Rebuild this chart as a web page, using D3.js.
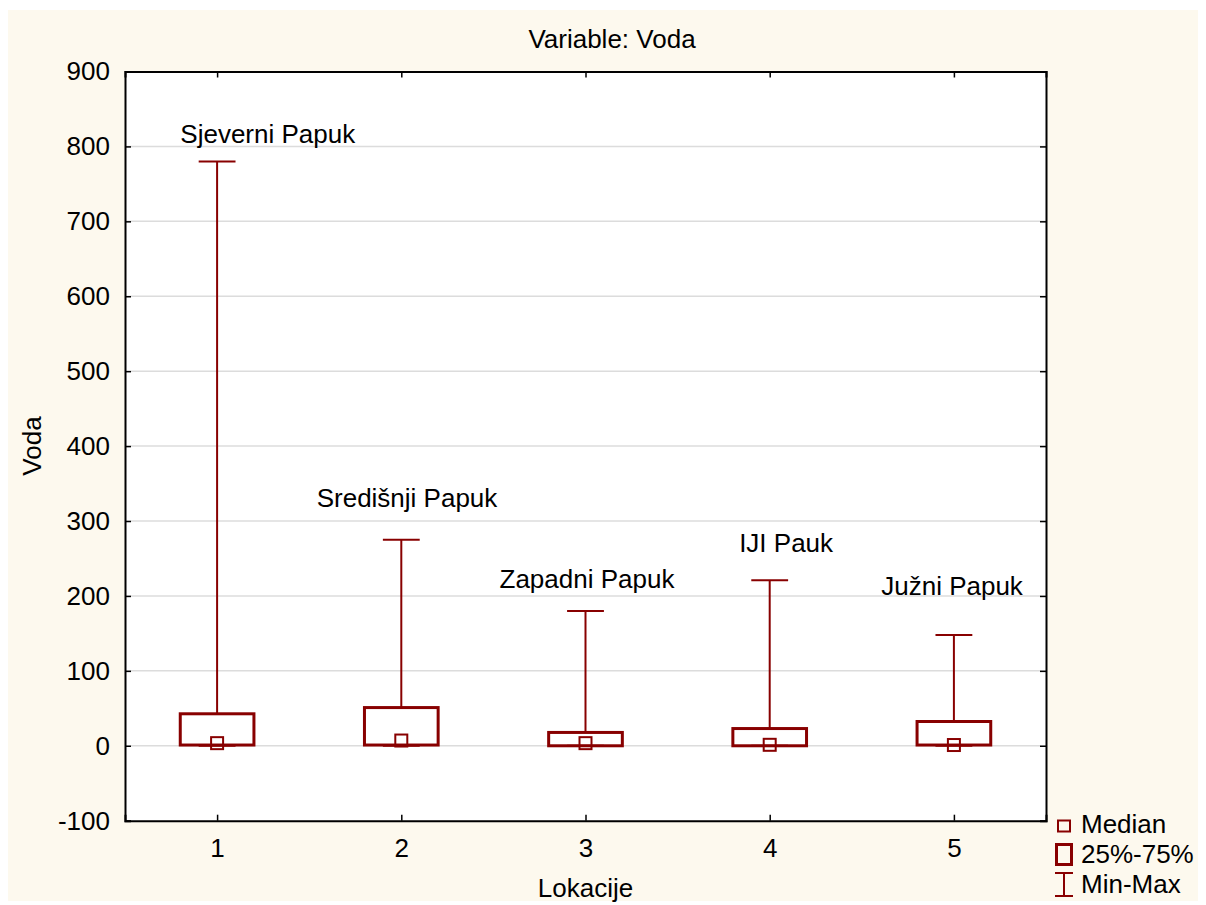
<!DOCTYPE html>
<html>
<head>
<meta charset="utf-8">
<script src="https://cdn.jsdelivr.net/npm/d3@7"></script>
<style>
  html, body { margin: 0; padding: 0; background: #ffffff; }
  svg text { font-family: Arial, "Liberation Sans", sans-serif; fill: #000; }
</style>
</head>
<body>
<svg id="chart" width="1206" height="905"></svg>
<script>
// ---- data ----
const categories = [1, 2, 3, 4, 5];
const locationNames = ["Sjeverni Papuk", "Središnji Papuk", "Zapadni Papuk", "IJI Pauk", "Južni Papuk"];
const minValues = [0, 0, 0, 0, 0];
const q1Values = [1, 1, 0, 0, 1];
const medianValues = [3.5, 7, 3.5, 1.3, 1];
const q3Values = [42.7, 51, 17.8, 23, 32.4];
const maxValues = [780, 275, 180, 221, 148];
// annotation anchor points (in data units)
const labelX = [1.275, 2.031, 3.008, 4.089, 4.99];
const labelY = [804, 319, 211, 259, 201];
const yTicks = [-100, 0, 100, 200, 300, 400, 500, 600, 700, 800, 900];
const legendLabels = ["Median", "25%-75%", "Min-Max"];
const titleText = "Variable: Voda";
const xTitle = "Lokacije";
const yTitle = "Voda";

(function () {
// ---- layout ----
const svg = d3.select("#chart");
const pL = 125, pR = 1046, pT = 71.5, pB = 820.7;
const boxColor = "#880000";
const fontSize = 26;

svg.append("rect").attr("x", 8).attr("y", 10).attr("width", 1190).attr("height", 891).attr("fill", "#fdf9ee");
svg.append("rect").attr("x", pL).attr("y", pT).attr("width", pR - pL).attr("height", pB - pT).attr("fill", "#ffffff");

const x = d3.scaleLinear().domain([0.5, 5.5]).range([pL, pR]);
const y = d3.scaleLinear().domain([-100, 900]).range([pB, pT]);

// gridlines
svg.append("g").selectAll("line").data(yTicks.filter(t => t > -100 && t < 900)).join("line")
  .attr("x1", pL).attr("x2", pR)
  .attr("y1", d => y(d)).attr("y2", d => y(d))
  .attr("stroke", "#dcdcdc").attr("stroke-width", 1.5);

// axes
const axisLeft = d3.axisLeft(y).tickValues(yTicks).tickSize(-6).tickPadding(15).tickFormat(d => String(d));
const gL = svg.append("g").attr("transform", `translate(${pL},0)`).call(axisLeft);
const axisRight = d3.axisRight(y).tickValues(yTicks).tickSize(-6).tickFormat("");
const gR = svg.append("g").attr("transform", `translate(${pR},0)`).call(axisRight);
const axisBottom = d3.axisBottom(x).tickValues(categories).tickSize(-6).tickPadding(18).tickFormat(d => String(d));
const gB = svg.append("g").attr("transform", `translate(0,${pB})`).call(axisBottom);
const axisTop = d3.axisTop(x).tickValues(categories).tickSize(-6).tickFormat("");
const gT = svg.append("g").attr("transform", `translate(0,${pT})`).call(axisTop);

[gL, gR, gB, gT].forEach(g => {
  g.select(".domain").attr("stroke", "#000").attr("stroke-width", 2);
  g.selectAll(".tick line").attr("stroke", "#000").attr("stroke-width", 1.5);
  g.selectAll("text").attr("font-size", fontSize).attr("fill", "#000")
    .attr("font-family", "Arial, 'Liberation Sans', sans-serif");
});

// boxes
const data = categories.map((c, i) => ({
  c, min: minValues[i], q1: q1Values[i], med: medianValues[i], q3: q3Values[i], max: maxValues[i]
}));
const boxHalf = 0.2, capHalf = 0.1, medSize = 12;
const gBox = svg.append("g");
data.forEach(d => {
  const cx = x(d.c);
  const capW = x(d.c + capHalf) - x(d.c);
  const bw = x(d.c + boxHalf) - x(d.c);
  gBox.append("line").attr("x1", cx).attr("x2", cx).attr("y1", y(d.max)).attr("y2", y(d.q3))
    .attr("stroke", boxColor).attr("stroke-width", 2);
  gBox.append("line").attr("x1", cx - capW).attr("x2", cx + capW).attr("y1", y(d.max)).attr("y2", y(d.max))
    .attr("stroke", boxColor).attr("stroke-width", 2);
  gBox.append("line").attr("x1", cx).attr("x2", cx).attr("y1", y(d.min)).attr("y2", y(d.q1))
    .attr("stroke", boxColor).attr("stroke-width", 2);
  gBox.append("line").attr("x1", cx - capW).attr("x2", cx + capW).attr("y1", y(d.min)).attr("y2", y(d.min))
    .attr("stroke", boxColor).attr("stroke-width", 2);
  gBox.append("rect").attr("x", cx - bw).attr("width", 2 * bw)
    .attr("y", y(d.q3)).attr("height", Math.max(0, y(d.q1) - y(d.q3)))
    .attr("fill", "none").attr("stroke", boxColor).attr("stroke-width", 3);
  gBox.append("rect").attr("x", cx - medSize / 2).attr("y", y(d.med) - medSize / 2)
    .attr("width", medSize).attr("height", medSize)
    .attr("fill", "none").attr("stroke", boxColor).attr("stroke-width", 2);
});

// annotations
svg.append("g").selectAll("text").data(locationNames).join("text")
  .attr("x", (d, i) => x(labelX[i])).attr("y", (d, i) => y(labelY[i]))
  .attr("text-anchor", "middle").attr("font-size", fontSize).text(d => d);

// titles
svg.append("text").attr("x", 612).attr("y", 48).attr("text-anchor", "middle").attr("font-size", fontSize).text(titleText);
svg.append("text").attr("x", (pL + pR) / 2).attr("y", 897).attr("text-anchor", "middle").attr("font-size", fontSize).text(xTitle);
svg.append("text").attr("transform", "translate(41,446) rotate(-90)").attr("text-anchor", "middle").attr("font-size", fontSize).text(yTitle);

// legend
const lg = svg.append("g");
lg.append("rect").attr("x", 1058).attr("y", 820.5).attr("width", 12).attr("height", 11)
  .attr("fill", "none").attr("stroke", boxColor).attr("stroke-width", 2);
lg.append("rect").attr("x", 1056.5).attr("y", 844.5).attr("width", 15).attr("height", 20)
  .attr("fill", "none").attr("stroke", boxColor).attr("stroke-width", 3);
lg.append("line").attr("x1", 1064).attr("x2", 1064).attr("y1", 873).attr("y2", 896).attr("stroke", boxColor).attr("stroke-width", 2);
lg.append("line").attr("x1", 1055).attr("x2", 1073).attr("y1", 873).attr("y2", 873).attr("stroke", boxColor).attr("stroke-width", 2);
lg.append("line").attr("x1", 1055).attr("x2", 1073).attr("y1", 896).attr("y2", 896).attr("stroke", boxColor).attr("stroke-width", 2);
const legendY = [833, 863, 893];
lg.selectAll("text.leg").data(legendLabels).join("text").attr("class", "leg")
  .attr("x", 1081).attr("y", (d, i) => legendY[i]).attr("font-size", fontSize).text(d => d);
})();
</script>
</body>
</html>
